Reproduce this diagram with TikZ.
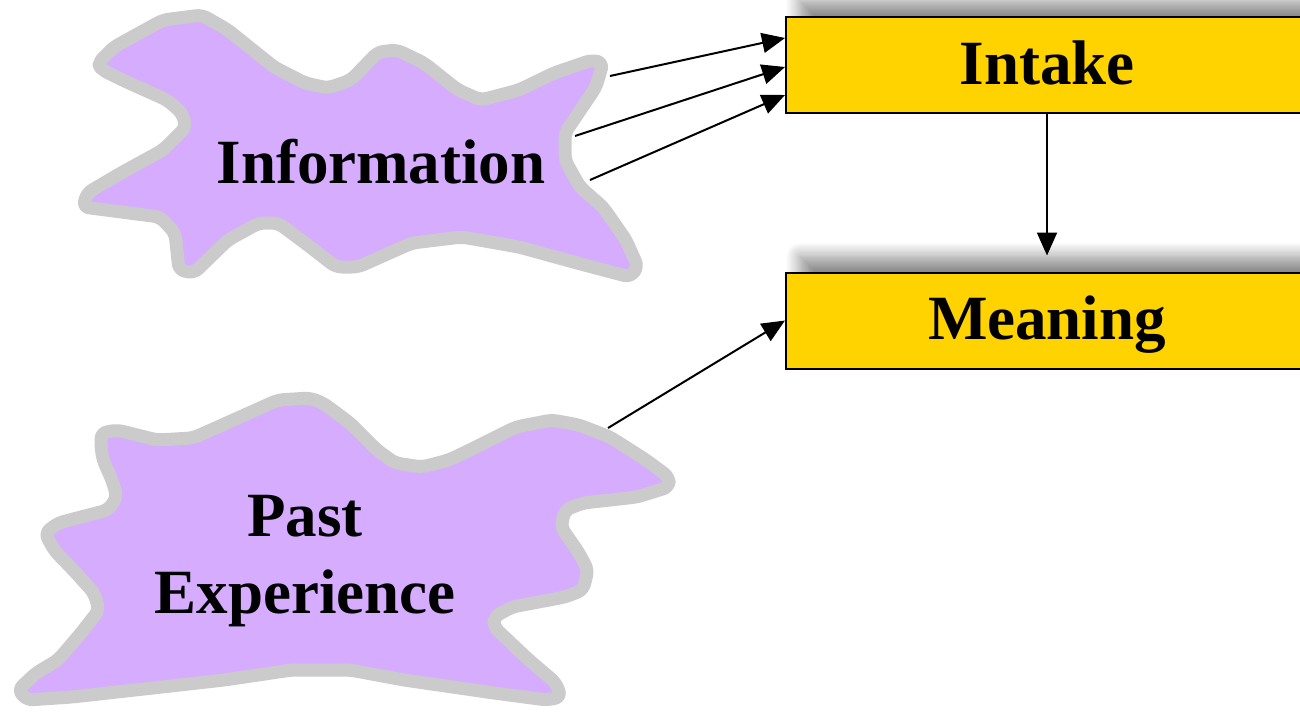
\documentclass[tikz,border=0pt]{standalone}
\usepackage{fontspec}
\setmainfont{Liberation Serif}
\usetikzlibrary{arrows.meta,shadows.blur}
\definecolor{blobfill}{RGB}{214,172,255}
\definecolor{blobedge}{RGB}{203,203,203}
\definecolor{boxfill}{RGB}{255,211,0}
\tikzset{
  blob/.style={draw=blobedge, fill=blobfill, line width=6.5pt, line join=round, rounded corners=3pt},
  bigtext/.style={font=\fontsize{31.5}{38.5}\selectfont\bfseries, text=black},
  stagebox/.style={bigtext, draw=black, line width=1pt, fill=boxfill,
    minimum width=261pt, minimum height=48pt, inner sep=0pt,
    text height=22pt, text depth=3pt,
    blur shadow={shadow xshift=7pt, shadow yshift=8pt, shadow blur radius=7pt,
      shadow blur steps=12, shadow opacity=45}},
  link/.style={line width=1pt, -{Triangle[length=11.5pt,width=10pt]}}
}
\begin{document}
\begin{tikzpicture}[x=0.5pt,y=-0.5pt]
\useasboundingbox (0,0) rectangle (1300,712);

% stage boxes
\node[stagebox] (intake) at (1047,65) {Intake};
\node[stagebox] (meaning) at (1047,320.5) {Meaning};

% connector end points
\coordinate (infoA) at (610,76);
\coordinate (infoB) at (575,136);
\coordinate (infoC) at (590,180);
\coordinate (pastA) at (608,428);
\coordinate (inA) at ([yshift=13.5pt]intake.west);
\coordinate (inB) at ([yshift=-1pt]intake.west);
\coordinate (inC) at ([yshift=-15pt]intake.west);
\coordinate (meanTop) at ([yshift=8pt]meaning.north);

\draw[link] (infoA) -- (inA);
\draw[link] (infoB) -- (inB);
\draw[link] (infoC) -- (inC);
\draw[link] (intake.south) -- (meanTop);
\draw[link] (pastA) -- (meaning.west);

% Information cloud
\draw[blob] (98,63) -- (114,47) -- (163,20) -- (202,15) -- (228,30) -- (274,67)
  -- (305,83) -- (328,88) -- (351,80) -- (378,52) -- (397,50) -- (424,63)
  -- (458,90) -- (481,100) -- (519,90) -- (554,73) -- (592,60) -- (603,63)
  -- (596,87) -- (565,133) -- (565,160) -- (580,187) -- (603,207) -- (626,240)
  -- (638,267) -- (630,277) -- (577,263) -- (519,247) -- (462,237) -- (412,243)
  -- (358,267) -- (336,267) -- (305,243) -- (278,223) -- (259,223) -- (228,240)
  -- (194,273) -- (179,270) -- (175,233) -- (160,217) -- (83,207) -- (87,193)
  -- (121,173) -- (163,150) -- (186,127) -- (182,113) -- (167,100) -- (129,83)
  -- (102,70) -- cycle;
\node[bigtext, anchor=base] (info) at (381,183) {Information};

% Past Experience cloud
\draw[blob] (101,433) -- (117,430) -- (157,440) -- (193,438) -- (211,430) -- (278,400)
  -- (310,398) -- (323,403) -- (350,423) -- (377,450) -- (395,463) -- (422,467)
  -- (449,460) -- (476,447) -- (516,427) -- (552,420) -- (579,425) -- (610,437)
  -- (646,460) -- (669,477) -- (669,487) -- (637,497) -- (583,503) -- (565,510)
  -- (561,527) -- (579,553) -- (588,570) -- (583,590) -- (565,597) -- (512,607)
  -- (494,617) -- (494,627) -- (529,660) -- (556,683) -- (561,697) -- (547,700)
  -- (494,693) -- (404,680) -- (350,670) -- (292,670) -- (224,680) -- (135,690)
  -- (72,697) -- (27,700) -- (18,690) -- (36,673) -- (58,660) -- (81,633)
  -- (99,610) -- (94,593) -- (76,573) -- (54,550) -- (45,533) -- (58,523)
  -- (108,510) -- (117,497) -- (112,480) -- (103,460) -- (101,447) -- cycle;
\node[bigtext, align=center] (past) at (305,561) {Past\\Experience};
\end{tikzpicture}
\end{document}
